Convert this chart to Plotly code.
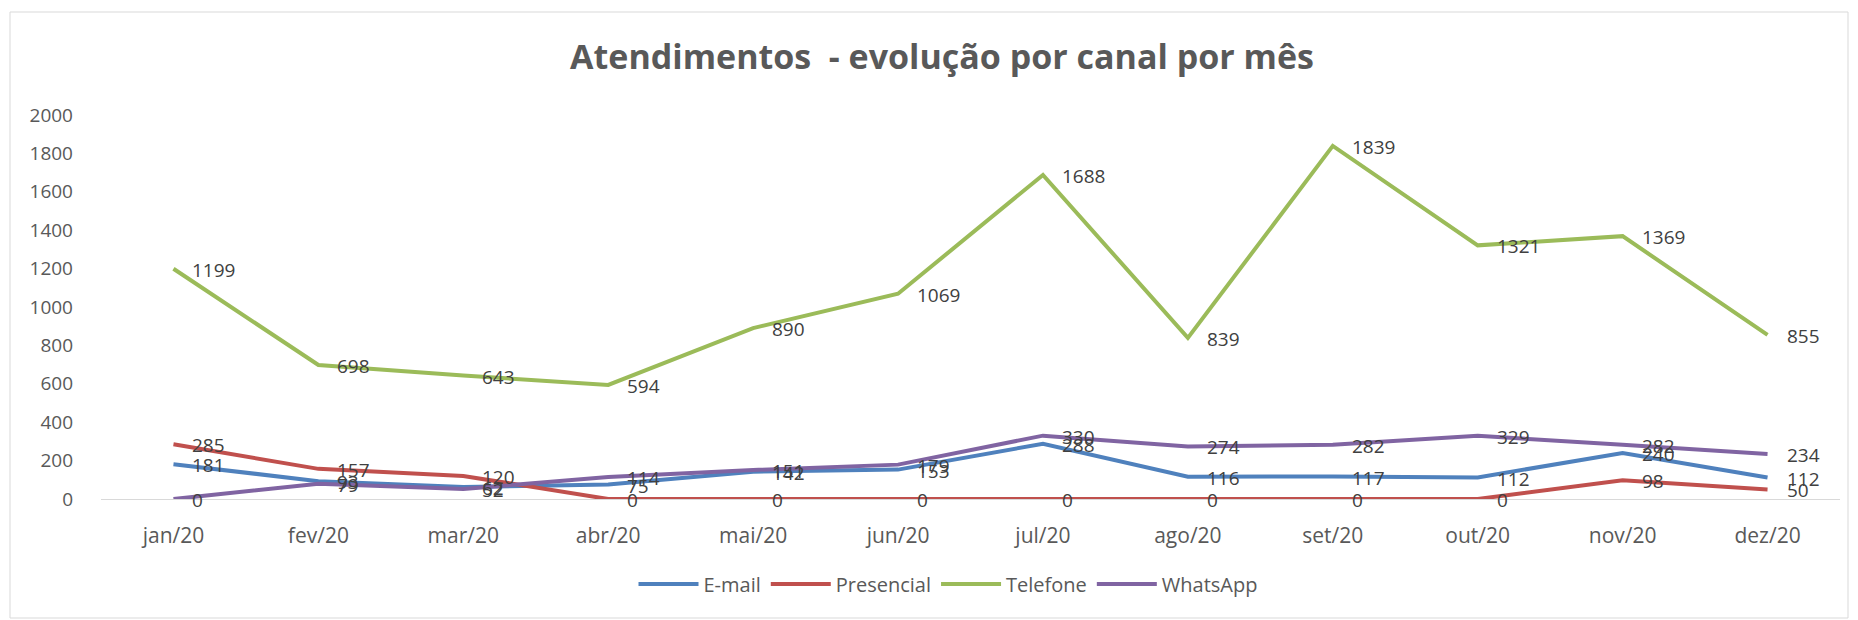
import plotly.graph_objects as go

# Monthly service volume per channel
meses = ["jan/20", "fev/20", "mar/20", "abr/20", "mai/20", "jun/20",
         "jul/20", "ago/20", "set/20", "out/20", "nov/20", "dez/20"]
email = [181, 93, 62, 75, 142, 153, 288, 116, 117, 112, 240, 112]
presencial = [285, 157, 120, 0, 0, 0, 0, 0, 0, 0, 98, 50]
telefone = [1199, 698, 643, 594, 890, 1069, 1688, 839, 1839, 1321, 1369, 855]
whatsapp = [0, 79, 52, 114, 151, 179, 330, 274, 282, 329, 282, 234]
y_ticks = [0, 200, 400, 600, 800, 1000, 1200, 1400, 1600, 1800, 2000]

W, H = 1858, 620
ML, MR, MT, MB = 101, 18, 115, 121

series = [
    ("E-mail", email, "#4F81BD"),
    ("Presencial", presencial, "#C0504D"),
    ("Telefone", telefone, "#9BBB59"),
    ("WhatsApp", whatsapp, "#8064A2"),
]

fig = go.Figure()
annotations = []
for nome, valores, cor in series:
    fig.add_trace(go.Scatter(
        x=meses, y=valores, name=nome, mode="lines",
        line=dict(color=cor, width=4),
    ))
    # value labels placed just to the right of each point
    for mes, v in zip(meses, valores):
        annotations.append(dict(
            x=mes, y=v, xref="x", yref="y", text=str(v),
            showarrow=False, xanchor="left", yanchor="middle",
            xshift=17, yshift=-1,
            font=dict(family="Open Sans", size=19, color="#404040"),
        ))

# chart border, expressed in paper coordinates
pw = W - ML - MR
ph = H - MT - MB
x0 = (10 - ML) / pw
x1 = (1848 - ML) / pw
y1 = (ph - (12 - MT)) / ph
y0 = (ph - (618 - MT)) / ph
fig.add_shape(type="rect", xref="paper", yref="paper",
              x0=x0, x1=x1, y0=y0, y1=y1,
              line=dict(color="#d9d9d9", width=1), layer="below")

fig.update_layout(
    width=W, height=H,
    margin=dict(l=ML, r=MR, t=MT, b=MB),
    paper_bgcolor="white", plot_bgcolor="white",
    annotations=annotations,
    title=dict(text="<b>Atendimentos  - evolução por canal por mês</b>",
               x=942 / W, xanchor="center",
               y=1 - 57 / H, yanchor="middle",
               font=dict(family="Open Sans", size=34, color="#595959")),
    font=dict(family="Open Sans", color="#595959"),
    showlegend=True,
    legend=dict(orientation="h", x=(948 - ML) / pw, xanchor="center",
                y=(ph - (584 - MT)) / ph, yanchor="middle",
                font=dict(family="Open Sans", size=20, color="#595959"),
                itemwidth=60, traceorder="normal"),
    xaxis=dict(type="category", range=[-0.5, 11.5], showgrid=False,
               showline=True, linecolor="#d9d9d9", linewidth=1,
               ticks="", tickfont=dict(family="Open Sans", size=21, color="#595959"),
               ticklabelstandoff=18, zeroline=False),
    yaxis=dict(range=[0, 2000], tickvals=y_ticks, showgrid=False,
               showline=False, zeroline=False, ticks="",
               tickfont=dict(family="Open Sans", size=19, color="#595959"),
               ticklabelstandoff=27),
)

fig.write_html("out.html")
